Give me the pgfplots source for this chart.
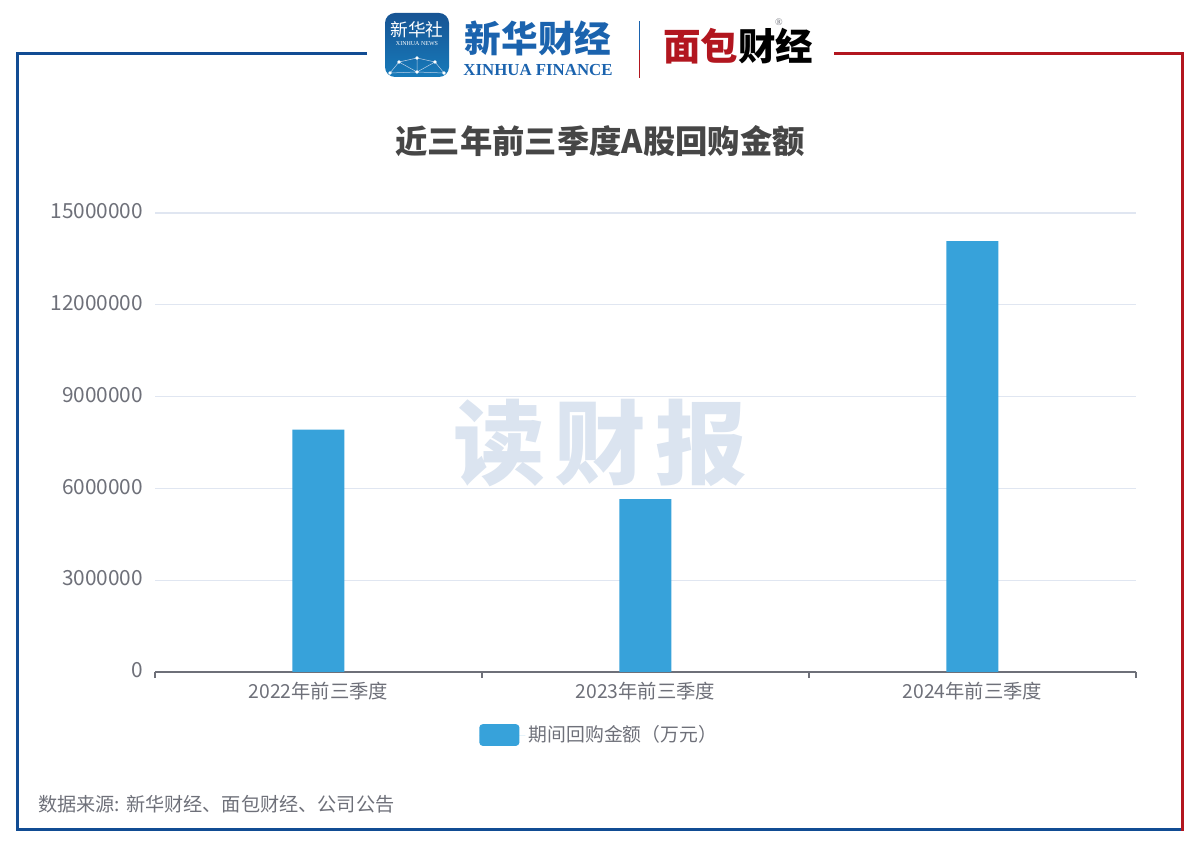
\documentclass[border=0pt]{standalone}
\usepackage{pgfplots}
\pgfplotsset{compat=1.18}
\usepackage{fontspec}
\setmainfont{Noto Sans CJK SC}
\newfontfamily\serifen{Liberation Serif}
\definecolor{barblue}{HTML}{37A2DA}
\definecolor{axisgrey}{HTML}{6E7079}
\definecolor{gridline}{HTML}{E0E6F1}
\definecolor{frameblue}{HTML}{114C93}
\definecolor{framered}{HTML}{B2161F}
\definecolor{xhblue}{HTML}{1B63AE}
\definecolor{mark}{HTML}{DBE4F0}
\definecolor{titlegrey}{HTML}{464646}
\begin{document}
\begin{tikzpicture}
% all decoration in reference pixels, origin top left
\begin{scope}[x=0.6pt,y=-0.6pt]
  \path[use as bounding box] (0,0) rectangle (1200,848);
  % frame
  \draw[frameblue,line width=1.9pt] (367,53.5) -- (17.5,53.5) -- (17.5,829.5) -- (1182,829.5);
  \draw[framered,line width=1.9pt] (834,53.5) -- (1182.5,53.5) -- (1182.5,831);
  % xinhua news icon
  \shade[top color=xhblue!85!black,bottom color=xhblue!85!cyan,rounded corners=6pt] (385,13) rectangle (449,77);
  \node[text=white,font=\fontsize{10.6}{11}\selectfont] at (417,30) {新华社};
  \node[text=white,font=\serifen\fontsize{3.6}{4}\selectfont] at (417,44) {XINHUA NEWS};
  \draw[white!70!xhblue,line width=0.3pt] (390,73) -- (399,62) -- (417,58) -- (435,62) -- (444,73)
    (399,62) -- (417,72) -- (435,62) (417,58) -- (417,72) (390,73) -- (417,72) -- (444,73);
  \foreach \p in {(399,62),(417,58),(435,62),(417,72),(390,73),(444,73)}
    \fill[white] \p circle (1.8);
  % xinhua finance
  \node[text=xhblue,font=\bfseries\fontsize{22}{23}\selectfont] at (538,38) {新华财经};
  \node[text=xhblue,font=\serifen\bfseries\fontsize{10.1}{11}\selectfont] at (538,70) {XINHUA FINANCE};
  \draw[xhblue,line width=0.9pt] (639.5,21) -- (639.5,50);
  \draw[framered,line width=0.9pt] (639.5,50) -- (639.5,78);
  % mianbao finance
  \node[font=\bfseries\fontsize{22.5}{24}\selectfont] at (738,46) {\textcolor{framered}{面包}\textcolor{black}{财经}};
  \node[text=axisgrey,font=\serifen\fontsize{6}{7}\selectfont] at (779,22) {®};
  % title and source
  \node[text=titlegrey,font=\bfseries\fontsize{19.4}{20}\selectfont] at (600,141) {近三年前三季度A股回购金额};
  \node[text=axisgrey,font=\fontsize{11.5}{12}\selectfont,anchor=west,inner sep=0pt] at (38,804) {数据来源: 新华财经、面包财经、公司公告};
  % watermark
  \node[text=mark,font=\bfseries\fontsize{55}{56}\selectfont] at (600,443) {读\hspace{0.1em}财\hspace{0.1em}报};
  \coordinate (plotorigin) at (155,672);
\end{scope}
\begin{axis}[
    at={(plotorigin)}, anchor=south west,
    scale only axis,
    width=588.6pt, height=275.4pt,
    ybar, bar width=31.2pt, bar shift=0pt,
    xmin=-0.5, xmax=2.5, ymin=0, ymax=15000000,
    axis y line*=left, axis x line*=bottom,
    y axis line style={draw=none},
    x axis line style={draw=axisgrey,line width=0.7pt,-},
    ytick={0,3000000,6000000,9000000,12000000,15000000},
    xtick={0,1,2},
    xticklabels={2022年前三季度,2023年前三季度,2024年前三季度},
    minor xtick={-0.5,0.5,1.5,2.5},
    tick align=outside,
    major tick length=0pt,
    minor tick length=3.6pt,
    minor tick style={draw=axisgrey,line width=0.7pt},
    ymajorgrids,
    major grid style={draw=gridline,line width=0.7pt},
    scaled y ticks=false,
    /pgf/number format/assume math mode=true,
    y tick label style={/pgf/number format/fixed,/pgf/number format/1000 sep={},text=axisgrey,font=\fontsize{12.5}{13}\selectfont,xshift=-3.6pt,yshift=1pt},
    x tick label style={text=axisgrey,font=\fontsize{11.6}{12}\selectfont,yshift=-2.5pt},
    legend style={at={(0.3303,-0.1373)},anchor=west,draw=none,fill=none,inner sep=0pt,
      font=\fontsize{11.3}{12}\selectfont,text=axisgrey},
    legend cell align=left,
    legend image code/.code={\fill[barblue,rounded corners=2pt] (0pt,-6.5pt) rectangle (24pt,6.5pt);\path (0pt,0pt) -- (27.6pt,0pt);},
]
\addplot[draw=none,fill=barblue] coordinates {(0,7920000) (1,5650000) (2,14080000)};
\addlegendentry{期间回购金额（万元）}
\end{axis}
\end{tikzpicture}
\end{document}
